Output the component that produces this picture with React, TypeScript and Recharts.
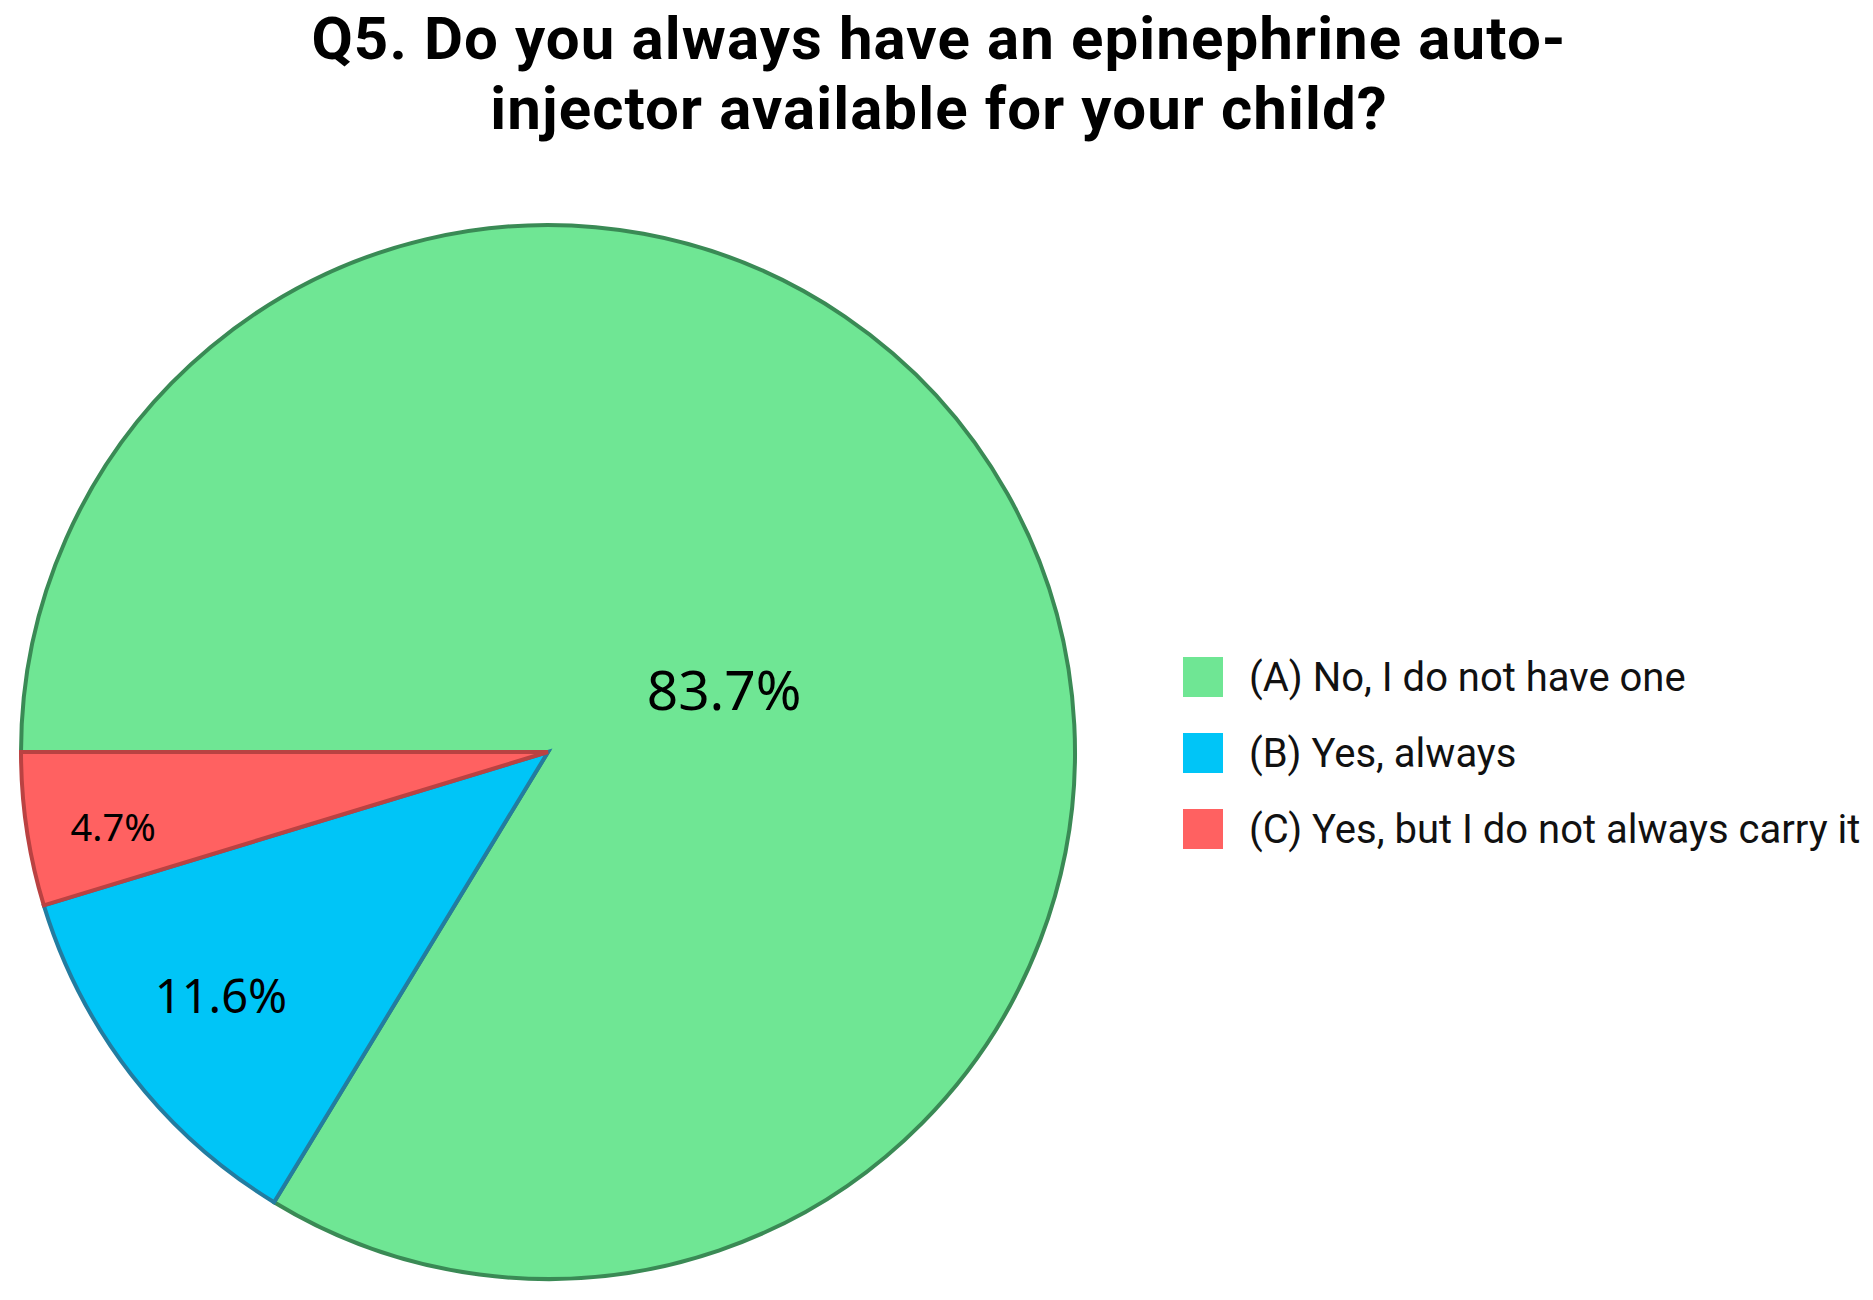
import React from "react";
import { PieChart, Pie, Cell, Legend } from "recharts";

const categories = [
  "(A) No, I do not have one",
  "(B) Yes, always",
  "(C) Yes, but I do not always carry it",
];
const percentages = [83.7, 11.6, 4.7];
const fills = ["#6FE694", "#00C5F7", "#FF6161"];
const strokes = ["#3A8A55", "#237CA0", "#BA4242"];
const titleLines = [
  "Q5. Do you always have an epinephrine auto-",
  "injector available for your child?",
];

const data = categories.map((name, i) => ({ name, value: percentages[i] }));

const RAD = Math.PI / 180;

const renderLabel = (props: any) => {
  const { cx, cy, midAngle, outerRadius, index, value } = props;
  let ratio = 0.8;
  let ang = midAngle;
  let size = 52;
  if (index === 0) {
    ratio = 0.355;
    ang = midAngle - 9.6;
    size = 55;
  } else if (index === 1) {
    ratio = 0.773;
    ang = midAngle - 1.2;
    size = 47;
  } else {
    ratio = 0.837;
    ang = midAngle + 1.2;
    size = 38;
  }
  const r = outerRadius * ratio;
  const x = cx + r * Math.cos(-ang * RAD);
  const y = cy + r * Math.sin(-ang * RAD);
  return (
    <text
      x={x}
      y={y}
      fill="#000"
      textAnchor="middle"
      dominantBaseline="central"
      style={{ fontFamily: "'Noto Sans', sans-serif", fontSize: size }}
    >
      {`${value.toFixed(1)}%`}
    </text>
  );
};

const LegendContent = () => (
  <div style={{ fontFamily: "Roboto, sans-serif" }}>
    {categories.map((c, i) => (
      <div
        key={c}
        style={{ display: "flex", alignItems: "center", height: 76 }}
      >
        <div
          style={{
            width: 40,
            height: 40,
            background: fills[i],
            marginRight: 26,
            flexShrink: 0,
          }}
        />
        <span style={{ fontSize: 40, color: "#111", whiteSpace: "nowrap" }}>
          {c}
        </span>
      </div>
    ))}
  </div>
);

export default function App() {
  return (
    <div
      style={{
        position: "absolute",
        left: 0,
        top: 0,
        width: 1873,
        height: 1300,
        background: "#fff",
        overflow: "hidden",
      }}
    >
      <div
        style={{
          position: "absolute",
          left: 0,
          top: 4,
          width: 1878,
          textAlign: "center",
          fontFamily: "Roboto, sans-serif",
          fontWeight: 700,
          fontSize: 60,
          lineHeight: "70px",
          letterSpacing: "1.1px",
          color: "#000",
        }}
      >
        {titleLines.map((t) => (
          <div key={t}>{t}</div>
        ))}
      </div>
      <PieChart width={1873} height={1300}>
        <Pie
          data={data}
          dataKey="value"
          nameKey="name"
          cx={543}
          cy={747}
          outerRadius={527}
          startAngle={180}
          endAngle={-180}
          label={renderLabel}
          labelLine={false}
          isAnimationActive={false}
        >
          {data.map((d, i) => (
            <Cell key={d.name} fill={fills[i]} stroke={strokes[i]} strokeWidth={4} />
          ))}
        </Pie>
        <Legend
          content={<LegendContent />}
          wrapperStyle={{ position: "absolute", left: 1183, top: 639, width: 690 }}
        />
      </PieChart>
    </div>
  );
}
